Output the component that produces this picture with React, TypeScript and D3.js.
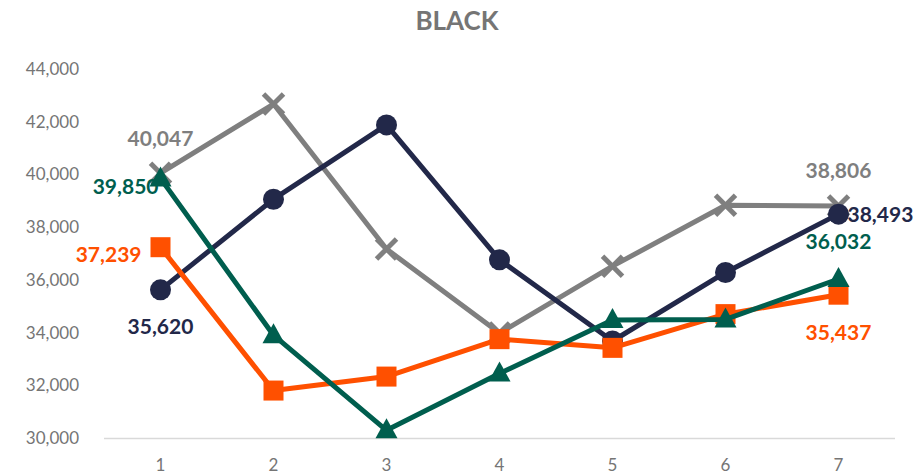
import React from "react";
import * as d3 from "d3";

const categories = ["1", "2", "3", "4", "5", "6", "7"];
const grayValues = [40047, 42670, 37170, 33980, 36520, 38830, 38806];
const navyValues = [35620, 39060, 41880, 36760, 33680, 36280, 38493];
const orangeValues = [37239, 31800, 32330, 33750, 33420, 34700, 35437];
const tealValues = [39850, 33900, 30290, 32450, 34480, 34500, 36032];
const yTicks = [30000, 32000, 34000, 36000, 38000, 40000, 42000, 44000];

const W = 913;
const H = 476;
const FONT = "Lato, 'Open Sans', sans-serif";

type Series = { name: string; values: number[]; color: string; marker: string };
const series: Series[] = [
  { name: "gray", values: grayValues, color: "#7F7F7F", marker: "x" },
  { name: "navy", values: navyValues, color: "#222849", marker: "circle" },
  { name: "orange", values: orangeValues, color: "#FF5000", marker: "square" },
  { name: "teal", values: tealValues, color: "#005E4E", marker: "triangle" },
];

export default function App() {
  const x = d3.scaleBand<string>().domain(categories).range([104, 895]);
  const y = d3.scaleLinear().domain([30000, 44000]).range([438, 69]);
  const cx = (c: string) => (x(c) as number) + x.bandwidth() / 2;
  const fmt = d3.format(",");
  const line = d3
    .line<number>()
    .x((_, i) => cx(categories[i]))
    .y((v) => y(v));

  const marker = (s: Series, i: number) => {
    const px = cx(categories[i]);
    const py = y(s.values[i]);
    if (s.marker === "circle") return <circle key={i} cx={px} cy={py} r={10.5} fill={s.color} />;
    if (s.marker === "square") return <rect key={i} x={px - 10} y={py - 10} width={20} height={20} fill={s.color} />;
    if (s.marker === "triangle") {
      const p = `${px},${py - 12} ${px + 11},${py + 8} ${px - 11},${py + 8}`;
      return <polygon key={i} points={p} fill={s.color} />;
    }
    const d = 10;
    return (
      <g key={i} stroke={s.color} strokeWidth={5}>
        <line x1={px - d} y1={py - d} x2={px + d} y2={py + d} />
        <line x1={px - d} y1={py + d} x2={px + d} y2={py - d} />
      </g>
    );
  };

  const labels = [
    { s: 0, i: 0, dx: 0, dy: -27, anchor: "middle" },
    { s: 3, i: 0, dx: -2, dy: 16, anchor: "end" },
    { s: 2, i: 0, dx: -19, dy: 15, anchor: "end" },
    { s: 1, i: 0, dx: 0, dy: 44, anchor: "middle" },
    { s: 0, i: 6, dx: 0, dy: -28, anchor: "middle" },
    { s: 1, i: 6, dx: 9, dy: 8, anchor: "start" },
    { s: 3, i: 6, dx: 0, dy: -30, anchor: "middle" },
    { s: 2, i: 6, dx: 0, dy: 45, anchor: "middle" },
  ];

  return (
    <svg width={W} height={H} style={{ display: "block", position: "absolute", left: 0, top: 0 }} fontFamily={FONT}>
      <rect width={W} height={H} fill="#fff" />
      <text x={457} y={30} textAnchor="middle" fontSize={26} fontWeight="bold" fill="#757575">
        BLACK
      </text>
      {yTicks.map((t) => (
        <text key={t} x={79} y={y(t) + 6} textAnchor="end" fontSize={17} fill="#757575">
          {fmt(t)}
        </text>
      ))}
      <line x1={104} x2={895} y1={438.5} y2={438.5} stroke="#D9D9D9" strokeWidth={1.5} />
      {categories.map((c) => (
        <text key={c} x={cx(c)} y={471} textAnchor="middle" fontSize={17} fill="#757575">
          {c}
        </text>
      ))}
      {series.map((s) => (
        <g key={s.name}>
          <path d={line(s.values) || ""} fill="none" stroke={s.color} strokeWidth={5} strokeLinejoin="round" />
          {s.values.map((_, i) => marker(s, i))}
        </g>
      ))}
      {labels.map((l, k) => {
        const s = series[l.s];
        return (
          <text
            key={k}
            x={cx(categories[l.i]) + l.dx}
            y={y(s.values[l.i]) + l.dy}
            textAnchor={l.anchor as any}
            fontSize={21}
            fontWeight="bold"
            fill={s.color}
          >
            {fmt(s.values[l.i])}
          </text>
        );
      })}
    </svg>
  );
}
